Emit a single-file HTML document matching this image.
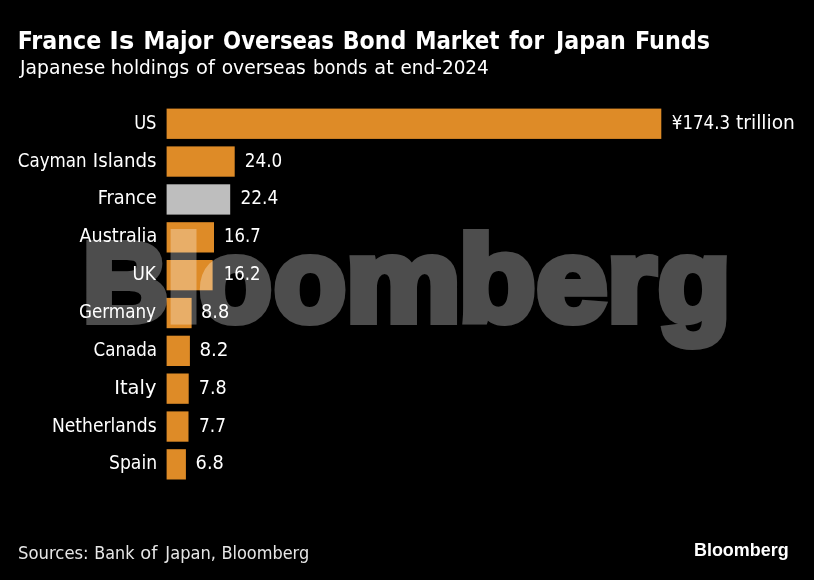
<!DOCTYPE html>
<html lang="en">
<head>
<meta charset="utf-8">
<title>France Is Major Overseas Bond Market for Japan Funds</title>
<style>
html,body{margin:0;padding:0;background:#000;}
body{width:814px;height:580px;overflow:hidden;}
svg{display:block;}
text{white-space:pre;}
.t{font-family:"DejaVu Sans Condensed","DejaVu Sans","Liberation Sans",sans-serif;font-weight:bold;font-size:24px;fill:#fff;}
.s{font-family:"DejaVu Sans Condensed","DejaVu Sans","Liberation Sans",sans-serif;font-size:20.2px;fill:#fff;}
.l{font-family:"DejaVu Sans Condensed","DejaVu Sans","Liberation Sans",sans-serif;font-size:18.8px;fill:#fff;}
.f{font-family:"DejaVu Sans Condensed","DejaVu Sans","Liberation Sans",sans-serif;font-size:17.6px;fill:#e6e6e6;}
.w{font-family:"Liberation Sans",sans-serif;font-weight:bold;font-size:120.5px;fill:#fff;stroke:#fff;stroke-width:8;stroke-linejoin:miter;}
.g{font-family:"Liberation Sans",sans-serif;font-weight:bold;font-size:18px;fill:#fff;}
</style>
</head>
<body>
<svg width="814" height="580" viewBox="0 0 814 580">
<rect x="0" y="0" width="814" height="580" fill="#000"/>
<text class="t" y="48.6"><tspan x="17.78" textLength="83.56" lengthAdjust="spacingAndGlyphs">France</tspan> <tspan x="109.33" textLength="24.92" lengthAdjust="spacingAndGlyphs">Is</tspan> <tspan x="143.58" textLength="69.7" lengthAdjust="spacingAndGlyphs">Major</tspan> <tspan x="223.05" textLength="110.98" lengthAdjust="spacingAndGlyphs">Overseas</tspan> <tspan x="342.67" textLength="63.62" lengthAdjust="spacingAndGlyphs">Bond</tspan> <tspan x="415.18" textLength="84.29" lengthAdjust="spacingAndGlyphs">Market</tspan> <tspan x="509.25" textLength="34.76" lengthAdjust="spacingAndGlyphs">for</tspan> <tspan x="556.08" textLength="69.84" lengthAdjust="spacingAndGlyphs">Japan</tspan> <tspan x="635.12" textLength="74.97" lengthAdjust="spacingAndGlyphs">Funds</tspan></text>
<text class="s" y="74.0"><tspan x="20.03" textLength="85.25" lengthAdjust="spacingAndGlyphs">Japanese</tspan> <tspan x="110.8" textLength="78.45" lengthAdjust="spacingAndGlyphs">holdings</tspan> <tspan x="196.09" textLength="18.76" lengthAdjust="spacingAndGlyphs">of</tspan> <tspan x="221.65" textLength="84.23" lengthAdjust="spacingAndGlyphs">overseas</tspan> <tspan x="313.08" textLength="54.38" lengthAdjust="spacingAndGlyphs">bonds</tspan> <tspan x="374.38" textLength="19.42" lengthAdjust="spacingAndGlyphs">at</tspan> <tspan x="400.51" textLength="88.33" lengthAdjust="spacingAndGlyphs">end-2024</tspan></text>
<rect x="166.6" y="108.6" width="494.7" height="30.3" fill="#de8b27"/>
<rect x="166.6" y="146.4" width="68.1" height="30.3" fill="#de8b27"/>
<rect x="166.6" y="184.3" width="63.6" height="30.3" fill="#bebebe"/>
<rect x="166.6" y="222.2" width="47.4" height="30.3" fill="#de8b27"/>
<rect x="166.6" y="260.0" width="46.0" height="30.3" fill="#de8b27"/>
<rect x="166.6" y="297.9" width="25.0" height="30.3" fill="#de8b27"/>
<rect x="166.6" y="335.7" width="23.3" height="30.3" fill="#de8b27"/>
<rect x="166.6" y="373.5" width="22.1" height="30.3" fill="#de8b27"/>
<rect x="166.6" y="411.4" width="21.9" height="30.3" fill="#de8b27"/>
<rect x="166.6" y="449.2" width="19.3" height="30.3" fill="#de8b27"/>
<g opacity="0.3"><text class="w" y="321.4"><tspan font-size="110.9" x="82.7" textLength="85.3" lengthAdjust="spacingAndGlyphs">B</tspan><tspan font-size="120.7" x="166.1" textLength="35.2" lengthAdjust="spacingAndGlyphs">l</tspan><tspan font-size="116" x="199.3" textLength="72.5" lengthAdjust="spacingAndGlyphs">o</tspan><tspan font-size="116" x="274.1" textLength="72.0" lengthAdjust="spacingAndGlyphs">o</tspan><tspan font-size="116" x="345.8" textLength="114.8" lengthAdjust="spacingAndGlyphs">m</tspan><tspan font-size="120.7" x="458.6" textLength="77.1" lengthAdjust="spacingAndGlyphs">b</tspan><tspan font-size="116" x="536.6" textLength="70.7" lengthAdjust="spacingAndGlyphs">e</tspan><tspan font-size="116" x="607.1" textLength="48.8" lengthAdjust="spacingAndGlyphs">r</tspan><tspan font-size="116" x="658.1" textLength="72.5" lengthAdjust="spacingAndGlyphs">g</tspan></text></g>
<text class="l" y="128.7"><tspan x="134.16" textLength="22.32" lengthAdjust="spacingAndGlyphs">US</tspan></text>
<text class="l" y="128.7"><tspan x="671.83" textLength="58.21" lengthAdjust="spacingAndGlyphs">¥174.3</tspan> <tspan x="736.06" textLength="58.91" lengthAdjust="spacingAndGlyphs">trillion</tspan></text>
<text class="l" y="166.5"><tspan x="17.8" textLength="68.78" lengthAdjust="spacingAndGlyphs">Cayman</tspan> <tspan x="92.85" textLength="63.71" lengthAdjust="spacingAndGlyphs">Islands</tspan></text>
<text class="l" y="166.5"><tspan x="244.79" textLength="37.43" lengthAdjust="spacingAndGlyphs">24.0</tspan></text>
<text class="l" y="204.4"><tspan x="97.7" textLength="59.03" lengthAdjust="spacingAndGlyphs">France</tspan></text>
<text class="l" y="204.4"><tspan x="240.42" textLength="37.83" lengthAdjust="spacingAndGlyphs">22.4</tspan></text>
<text class="l" y="242.2"><tspan x="79.55" textLength="77.64" lengthAdjust="spacingAndGlyphs">Australia</tspan></text>
<text class="l" y="242.2"><tspan x="224.02" textLength="36.72" lengthAdjust="spacingAndGlyphs">16.7</tspan></text>
<text class="l" y="280.1"><tspan x="132.43" textLength="23.44" lengthAdjust="spacingAndGlyphs">UK</tspan></text>
<text class="l" y="280.1"><tspan x="223.77" textLength="36.81" lengthAdjust="spacingAndGlyphs">16.2</tspan></text>
<text class="l" y="317.9"><tspan x="78.93" textLength="77.13" lengthAdjust="spacingAndGlyphs">Germany</tspan></text>
<text class="l" y="317.9"><tspan x="201.04" textLength="28.27" lengthAdjust="spacingAndGlyphs">8.8</tspan></text>
<text class="l" y="355.8"><tspan x="93.57" textLength="63.55" lengthAdjust="spacingAndGlyphs">Canada</tspan></text>
<text class="l" y="355.8"><tspan x="199.42" textLength="29.08" lengthAdjust="spacingAndGlyphs">8.2</tspan></text>
<text class="l" y="393.6"><tspan x="114.21" textLength="42.21" lengthAdjust="spacingAndGlyphs">Italy</tspan></text>
<text class="l" y="393.6"><tspan x="198.82" textLength="27.89" lengthAdjust="spacingAndGlyphs">7.8</tspan></text>
<text class="l" y="431.5"><tspan x="51.98" textLength="104.63" lengthAdjust="spacingAndGlyphs">Netherlands</tspan></text>
<text class="l" y="431.5"><tspan x="199.06" textLength="26.99" lengthAdjust="spacingAndGlyphs">7.7</tspan></text>
<text class="l" y="469.4"><tspan x="109.0" textLength="48.07" lengthAdjust="spacingAndGlyphs">Spain</tspan></text>
<text class="l" y="469.4"><tspan x="195.62" textLength="28.21" lengthAdjust="spacingAndGlyphs">6.8</tspan></text>
<text class="f" y="558.7"><tspan x="18.07" textLength="70.61" lengthAdjust="spacingAndGlyphs">Sources:</tspan> <tspan x="94.38" textLength="40.02" lengthAdjust="spacingAndGlyphs">Bank</tspan> <tspan x="140.32" textLength="17.19" lengthAdjust="spacingAndGlyphs">of</tspan> <tspan x="165.37" textLength="50.57" lengthAdjust="spacingAndGlyphs">Japan,</tspan> <tspan x="221.4" textLength="87.82" lengthAdjust="spacingAndGlyphs">Bloomberg</tspan></text>
<text class="g" y="555.8"><tspan x="693.96" textLength="94.77" lengthAdjust="spacingAndGlyphs">Bloomberg</tspan></text>
</svg>
</body>
</html>
